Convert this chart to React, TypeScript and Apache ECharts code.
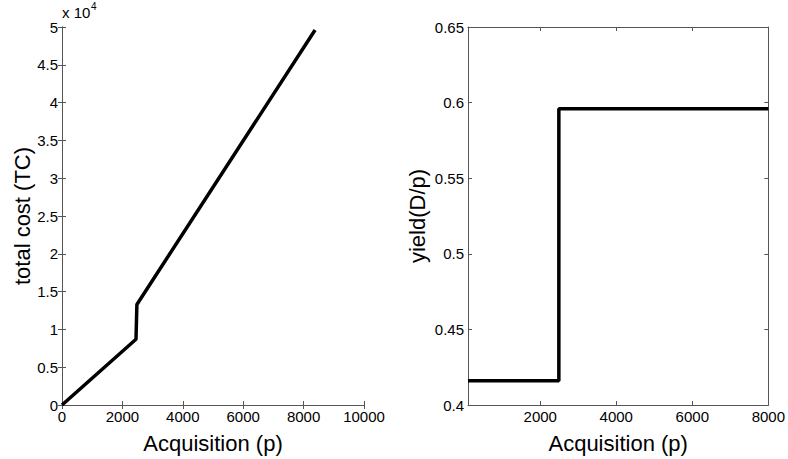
import React, { useEffect, useRef } from "react";
import * as echarts from "echarts";

// Left panel: total cost vs acquisition
const costAcq = [0, 2450, 2480, 8380];
const costVal = [0, 8700, 13300, 49600];

// Right panel: yield vs acquisition (step)
const yieldAcq = [100, 2490, 2490, 8000];
const yieldVal = [0.416, 0.416, 0.596, 0.596];

const leftXTicks = [0, 2000, 4000, 6000, 8000, 10000];
const leftYTicks = [0, 0.5, 1, 1.5, 2, 2.5, 3, 3.5, 4, 4.5, 5];
const rightXTicks = [2000, 4000, 6000, 8000];
const rightYTicks = [0.4, 0.45, 0.5, 0.55, 0.6, 0.65];

const FONT = "Liberation Sans, Arial, sans-serif";
const AXIS_COLOR = "#555";

export default function App() {
  const ref = useRef<HTMLDivElement>(null);
  useEffect(() => {
    if (!ref.current) return;
    const chart = echarts.init(ref.current, null, { renderer: "svg" });
    const tickStyle = { show: true, inside: true, length: 4, lineStyle: { color: AXIS_COLOR, width: 1 } };
    const lineStyle = { show: true, lineStyle: { color: AXIS_COLOR, width: 1 } };
    const label = { color: "#000", fontSize: 15, fontFamily: FONT, formatter: (v: number) => String(v) };
    const nameStyle = { color: "#000", fontSize: 22, fontFamily: FONT };
    const mirror = (type: "x" | "y", gridIndex: number, min: number, max: number, ticks: number[]) => ({
      type: "value",
      gridIndex,
      position: type === "x" ? "top" : "right",
      min,
      max,
      axisLine: lineStyle,
      axisTick: { ...tickStyle, customValues: ticks },
      axisLabel: { show: false, customValues: ticks },
      splitLine: { show: false },
    });
    chart.setOption({
      animation: false,
      backgroundColor: "#fff",
      grid: [
        { left: 62, top: 27, width: 302, height: 381 },
        { left: 468, top: 27, width: 303, height: 381 },
      ],
      xAxis: [
        {
          type: "value",
          gridIndex: 0,
          min: 0,
          max: 10000,
          axisLine: lineStyle,
          axisTick: { ...tickStyle, customValues: leftXTicks },
          axisLabel: { ...label, margin: 4, customValues: leftXTicks },
          splitLine: { show: false },
          name: "Acquisition (p)",
          nameLocation: "middle",
          nameGap: 27,
          nameTextStyle: nameStyle,
        },
        {
          type: "value",
          gridIndex: 1,
          min: 100,
          max: 8000,
          axisLine: lineStyle,
          axisTick: { ...tickStyle, customValues: rightXTicks },
          axisLabel: { ...label, margin: 4, customValues: rightXTicks },
          splitLine: { show: false },
          name: "Acquisition (p)",
          nameLocation: "middle",
          nameGap: 27,
          nameTextStyle: nameStyle,
        },
        mirror("x", 0, 0, 10000, leftXTicks),
        mirror("x", 1, 100, 8000, rightXTicks),
      ],
      yAxis: [
        {
          type: "value",
          gridIndex: 0,
          min: 0,
          max: 5,
          axisLine: lineStyle,
          axisTick: { ...tickStyle, customValues: leftYTicks },
          axisLabel: { ...label, margin: 4, customValues: leftYTicks },
          splitLine: { show: false },
          name: "total cost (TC)",
          nameLocation: "middle",
          nameGap: 29,
          nameTextStyle: nameStyle,
        },
        {
          type: "value",
          gridIndex: 1,
          min: 0.4,
          max: 0.65,
          axisLine: lineStyle,
          axisTick: { ...tickStyle, customValues: rightYTicks },
          axisLabel: { ...label, margin: 4, customValues: rightYTicks },
          splitLine: { show: false },
          name: "yield(D/p)",
          nameLocation: "middle",
          nameGap: 40,
          nameTextStyle: nameStyle,
        },
        mirror("y", 0, 0, 5, leftYTicks),
        mirror("y", 1, 0.4, 0.65, rightYTicks),
      ],
      graphic: [
        {
          type: "text",
          left: 62,
          top: 5,
          style: { text: "x 10", fontSize: 15, fontFamily: FONT, fill: "#000" },
        },
        {
          type: "text",
          left: 91,
          top: 1,
          style: { text: "4", fontSize: 10, fontFamily: FONT, fill: "#000" },
        },
      ],
      series: [
        {
          type: "line",
          xAxisIndex: 0,
          yAxisIndex: 0,
          data: costAcq.map((x, i) => [x, costVal[i] / 10000]),
          showSymbol: false,
          lineStyle: { color: "#000", width: 3.5 },
          clip: true,
        },
        {
          type: "line",
          xAxisIndex: 1,
          yAxisIndex: 1,
          data: yieldAcq.map((x, i) => [x, yieldVal[i]]),
          showSymbol: false,
          lineStyle: { color: "#000", width: 3.5 },
          clip: true,
        },
      ],
    });
    return () => chart.dispose();
  }, []);
  return (
    <div
      ref={ref}
      style={{ position: "fixed", left: 0, top: 0, width: 788, height: 459, background: "#fff" }}
    />
  );
}
